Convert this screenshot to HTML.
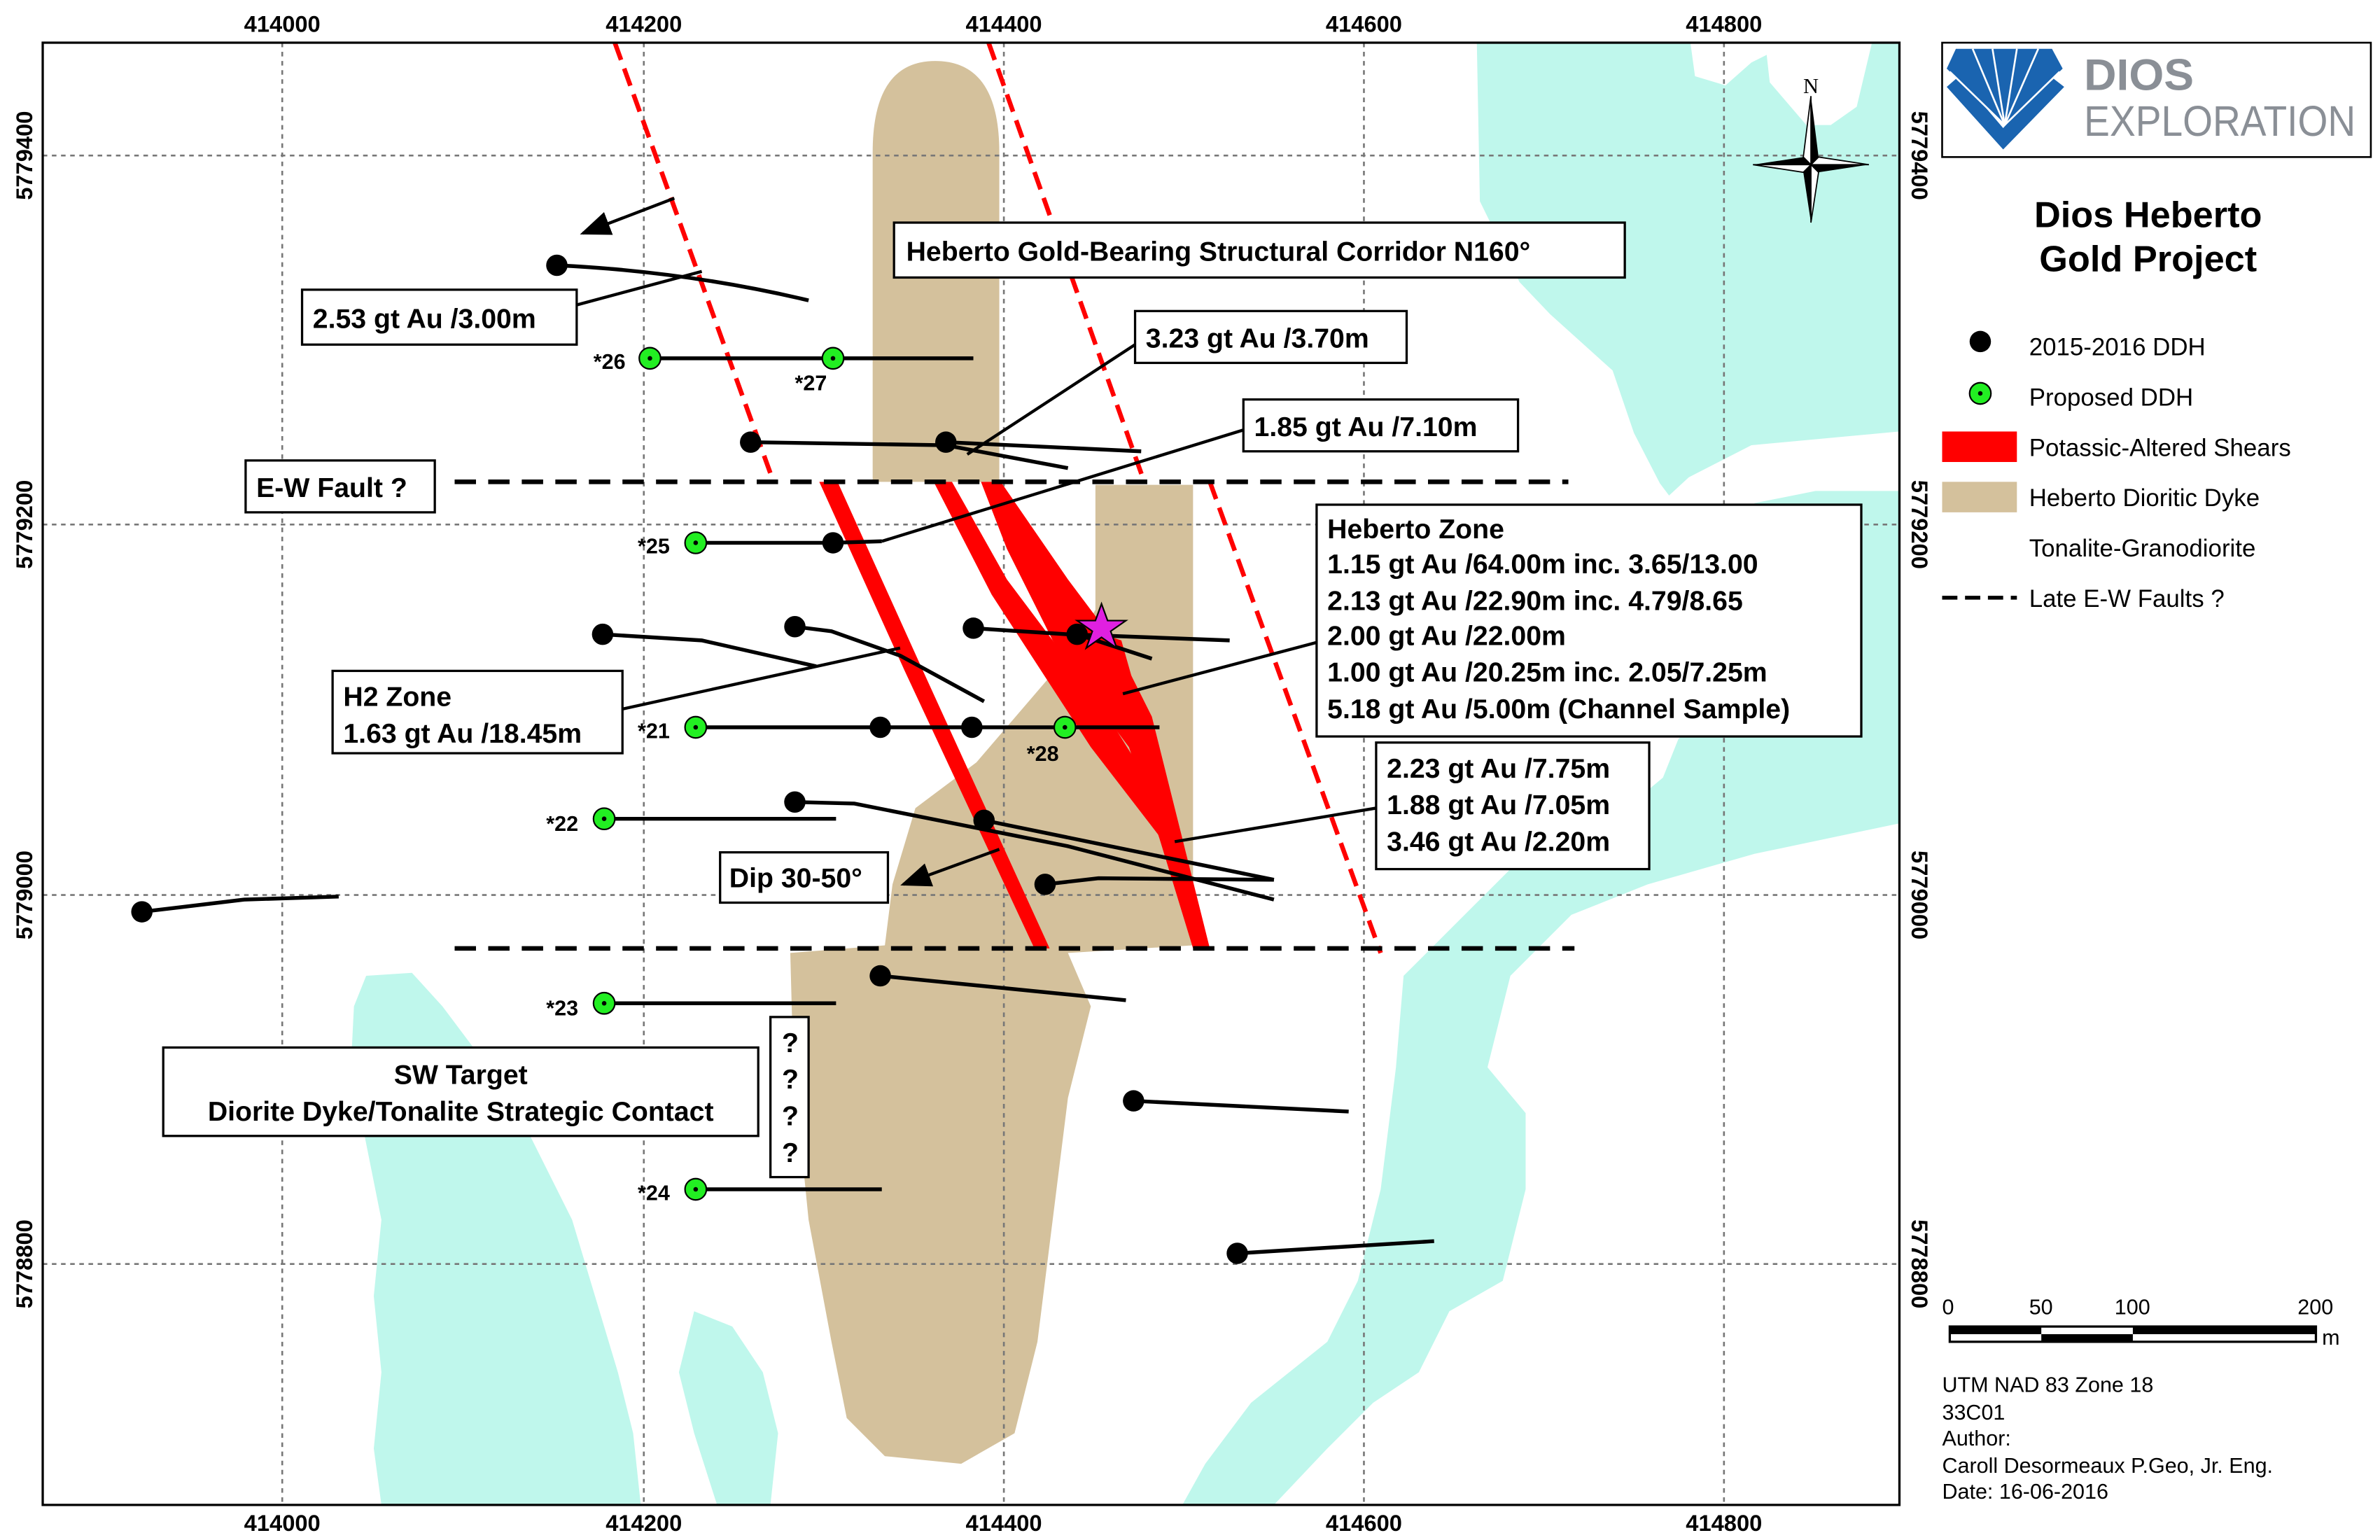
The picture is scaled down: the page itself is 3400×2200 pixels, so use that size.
<!DOCTYPE html>
<html><head><meta charset="utf-8"><style>html,body{margin:0;padding:0;background:#fff}svg{display:block}</style></head><body>
<svg width="3400" height="2200" viewBox="0 0 1560 1010" preserveAspectRatio="none" xmlns="http://www.w3.org/2000/svg" font-family="Liberation Sans, Arial, sans-serif">
<defs><marker id="ah" markerWidth="10" markerHeight="8" refX="9" refY="4" orient="auto"><path d="M0,0 L10,4 L0,8 Z" fill="#000"/></marker></defs>
<rect width="1560" height="1010" fill="#fff"/>
<!-- cyan -->
<g fill="#bff7ec">
<path d="M968,28 L1108,28 L1111,50 L1131,56 L1148,41 L1158,36 L1160,54 L1184,82 L1200,82 L1217,70 L1227,28 L1245,28 L1245,283 L1148,292 L1107,313 L1094,325 L1088,317 L1071,284 L1057,243 L1016,206 L996,185 L970,132 Z"/>
<path d="M1150,330 L1190,322 L1245,322 L1245,540 L1150,560 L1080,580 L1030,600 L990,640 L975,700 L1000,730 L1000,780 L985,840 L950,860 L930,900 L900,920 L870,950 L835,987 L775,987 L790,960 L820,920 L870,880 L890,840 L905,780 L915,700 L920,640 L960,600 L1000,560 L1060,535 L1090,510 L1100,485 L1140,440 Z"/>
<path d="M240,640 L270,638 L290,660 L320,700 L340,730 L360,770 L375,800 L390,850 L405,900 L415,940 L420,987 L250,987 L245,950 L250,900 L245,850 L250,800 L240,750 L230,700 L232,660 Z"/>
<path d="M455,860 L480,870 L500,900 L510,940 L505,987 L470,987 L455,940 L445,900 Z"/>
</g>
<!-- dyke -->
<g fill="#d4c19c">
<path d="M572,316 L572,100 Q572,40 613,40 Q655,40 655,100 L655,316 Z"/>
<path d="M718,318 L782,318 L782,620 L700,625 L715,660 L700,720 L690,800 L680,880 L665,940 L630,960 L580,955 L555,930 L545,880 L530,800 L520,700 L518,625 L580,620 L585,580 L600,530 L640,500 L700,430 L718,400 Z"/>
</g>
<!-- grid -->
<g stroke="#777" stroke-width="1.2" stroke-dasharray="3,3">
<line x1="185" y1="28" x2="185" y2="987"/><line x1="422" y1="28" x2="422" y2="987"/><line x1="658" y1="28" x2="658" y2="987"/><line x1="894" y1="28" x2="894" y2="987"/><line x1="1130" y1="28" x2="1130" y2="987"/>
<line x1="28" y1="102" x2="1245" y2="102"/><line x1="28" y1="344" x2="1245" y2="344"/><line x1="28" y1="587" x2="1245" y2="587"/><line x1="28" y1="829" x2="1245" y2="829"/>
</g>
<!-- shears -->
<g fill="#ff0000">
<path d="M537,316 L549,316 L605,440 L688,622 L678,622 L593,440 Z"/>
<path d="M612,316 L624,316 L660,380 L720,460 L770,540 L765,555 L715,490 L650,390 Z"/>
<path d="M643,316 L656,316 L700,380 L730,420 L755,470 L770,530 L793,622 L782,622 L760,550 L740,490 L710,450 L690,420 L660,360 Z"/>
<path d="M705,410 L735,420 L752,480 L740,482 L720,440 Z"/>
</g>
<g stroke="#ff0000" stroke-width="3" stroke-dasharray="12,6">
<line x1="403" y1="28" x2="507" y2="316"/><line x1="648" y1="28" x2="750" y2="316"/><line x1="793" y1="316" x2="905" y2="625"/>
</g>
<g stroke="#000" stroke-width="3" stroke-dasharray="14,8">
<line x1="298" y1="316" x2="1028" y2="316"/><line x1="298" y1="622" x2="1032" y2="622"/>
</g>
<!-- traces -->
<g stroke="#000" stroke-width="2.5" fill="none">
<path d="M365,174 Q450,178 530,197"/><path d="M492,290 L620,292 L700,307"/><path d="M620,290 L748,296"/><path d="M546,356 L578,355"/>
<path d="M395,416 L460,420 L535,437"/><path d="M521,411 L545,414 L590,430 L645,460"/><path d="M638,412 L700,416 L806,420"/><path d="M706,416 L755,432"/>
<path d="M456,477 L760,477"/><path d="M521,526 L560,527 L700,555 L835,590"/><path d="M645,538 L835,577"/><path d="M685,580 L720,576 L835,577"/>
<path d="M93,598 L160,590 L222,588"/><path d="M577,640 L738,656"/><path d="M743,722 L884,729"/><path d="M811,822 L940,814"/>
<path d="M426,235 L638,235"/><path d="M456,356 L546,356"/><path d="M396,537 L548,537"/><path d="M396,658 L548,658"/><path d="M456,780 L578,780"/>
<path d="M378,200 L460,178" stroke-width="2"/><path d="M744,226 L634,298" stroke-width="2"/><path d="M815,282 L578,355" stroke-width="2"/>
<path d="M868,420 L736,455" stroke-width="2"/><path d="M408,465 L590,425" stroke-width="2"/><path d="M902,530 L770,552" stroke-width="2"/>
<path d="M442,130 L382,153" stroke-width="2" marker-end="url(#ah)"/><path d="M655,557 L592,580" stroke-width="2" marker-end="url(#ah)"/>
</g>
<g fill="#000">
<circle cx="365" cy="174" r="7"/><circle cx="492" cy="290" r="7"/><circle cx="620" cy="290" r="7"/><circle cx="546" cy="356" r="7"/>
<circle cx="395" cy="416" r="7"/><circle cx="521" cy="411" r="7"/><circle cx="638" cy="412" r="7"/><circle cx="706" cy="416" r="7"/>
<circle cx="577" cy="477" r="7"/><circle cx="637" cy="477" r="7"/><circle cx="521" cy="526" r="7"/><circle cx="645" cy="538" r="7"/>
<circle cx="685" cy="580" r="7"/><circle cx="93" cy="598" r="7"/><circle cx="577" cy="640" r="7"/><circle cx="743" cy="722" r="7"/><circle cx="811" cy="822" r="7"/>
</g>
<polygon points="722,396 726,407 738,407 728,414 732,425 722,418 712,425 716,414 706,407 718,407" fill="#e020e0" stroke="#000" stroke-width="1"/>
<g fill="#22ee22" stroke="#000" stroke-width="1">
<circle cx="426" cy="235" r="7"/><circle cx="546" cy="235" r="7"/><circle cx="456" cy="356" r="7"/><circle cx="456" cy="477" r="7"/>
<circle cx="698" cy="477" r="7"/><circle cx="396" cy="537" r="7"/><circle cx="396" cy="658" r="7"/><circle cx="456" cy="780" r="7"/>
</g>
<g fill="#000"><circle cx="426" cy="235" r="1.5"/><circle cx="546" cy="235" r="1.5"/><circle cx="456" cy="356" r="1.5"/><circle cx="456" cy="477" r="1.5"/><circle cx="698" cy="477" r="1.5"/><circle cx="396" cy="537" r="1.5"/><circle cx="396" cy="658" r="1.5"/><circle cx="456" cy="780" r="1.5"/></g>
<g font-size="14" font-weight="bold">
<text x="389" y="242">*26</text><text x="521" y="256">*27</text><text x="418" y="363">*25</text><text x="418" y="484">*21</text>
<text x="673" y="499">*28</text><text x="358" y="545">*22</text><text x="358" y="666">*23</text><text x="418" y="787">*24</text>
</g>
<!-- boxes -->
<g fill="#fff" stroke="#000" stroke-width="1.5">
<rect x="198" y="190" width="180" height="36"/><rect x="586" y="146" width="479" height="36"/><rect x="744" y="204" width="178" height="34"/>
<rect x="815" y="262" width="180" height="34"/><rect x="161" y="302" width="124" height="34"/><rect x="863" y="331" width="357" height="152"/>
<rect x="218" y="440" width="190" height="54"/><rect x="902" y="487" width="179" height="83"/><rect x="472" y="559" width="110" height="33"/>
<rect x="107" y="687" width="390" height="58"/><rect x="505" y="667" width="25" height="105"/>
</g>
<g font-size="18" font-weight="bold" fill="#000">
<text x="205" y="215">2.53 gt Au /3.00m</text>
<text x="594" y="171">Heberto Gold-Bearing Structural Corridor N160°</text>
<text x="751" y="228">3.23 gt Au /3.70m</text>
<text x="822" y="286">1.85 gt Au /7.10m</text>
<text x="168" y="326">E-W Fault ?</text>
<text x="870" y="353">Heberto Zone</text><text x="870" y="376">1.15 gt Au /64.00m inc. 3.65/13.00</text><text x="870" y="400">2.13 gt Au /22.90m inc. 4.79/8.65</text><text x="870" y="423">2.00 gt Au /22.00m</text><text x="870" y="447">1.00 gt Au /20.25m inc. 2.05/7.25m</text><text x="870" y="471">5.18 gt Au /5.00m (Channel Sample)</text>
<text x="225" y="463">H2 Zone</text><text x="225" y="487">1.63 gt Au /18.45m</text>
<text x="909" y="510">2.23 gt Au /7.75m</text><text x="909" y="534">1.88 gt Au /7.05m</text><text x="909" y="558">3.46 gt Au /2.20m</text>
<text x="478" y="582">Dip 30-50°</text>
<text x="302" y="711" text-anchor="middle">SW Target</text><text x="302" y="735" text-anchor="middle">Diorite Dyke/Tonalite Strategic Contact</text>
<text x="518" y="690" text-anchor="middle">?</text><text x="518" y="714" text-anchor="middle">?</text><text x="518" y="738" text-anchor="middle">?</text><text x="518" y="762" text-anchor="middle">?</text>
</g>
<rect x="28" y="28" width="1217" height="959" fill="none" stroke="#000" stroke-width="1.5"/>
<g font-size="15" font-weight="bold" text-anchor="middle">
<text x="185" y="21">414000</text><text x="422" y="21">414200</text><text x="658" y="21">414400</text><text x="894" y="21">414600</text><text x="1130" y="21">414800</text>
<text x="185" y="1004">414000</text><text x="422" y="1004">414200</text><text x="658" y="1004">414400</text><text x="894" y="1004">414600</text><text x="1130" y="1004">414800</text>
<text transform="translate(21,102) rotate(-90)">5779400</text><text transform="translate(21,344) rotate(-90)">5779200</text><text transform="translate(21,587) rotate(-90)">5779000</text><text transform="translate(21,829) rotate(-90)">5778800</text>
<text transform="translate(1253,102) rotate(90)">5779400</text><text transform="translate(1253,344) rotate(90)">5779200</text><text transform="translate(1253,587) rotate(90)">5779000</text><text transform="translate(1253,829) rotate(90)">5778800</text>
</g>
<!-- compass -->
<g transform="translate(1187,108)">
<polygon points="0,-45 5,-5 0,0" fill="#000"/><polygon points="0,-45 -5,-5 0,0" fill="#fff" stroke="#000" stroke-width="0.8"/>
<polygon points="0,38 5,5 0,0" fill="#fff" stroke="#000" stroke-width="0.8"/><polygon points="0,38 -5,5 0,0" fill="#000"/>
<polygon points="38,0 5,-5 0,0" fill="#fff" stroke="#000" stroke-width="0.8"/><polygon points="38,0 5,5 0,0" fill="#000"/>
<polygon points="-38,0 -5,5 0,0" fill="#fff" stroke="#000" stroke-width="0.8"/><polygon points="-38,0 -5,-5 0,0" fill="#000"/>
<text x="0" y="-47" font-size="14" text-anchor="middle" font-family="Liberation Serif, serif">N</text>
</g>
<!-- right panel -->
<rect x="1273" y="28" width="281" height="75" fill="#fff" stroke="#000" stroke-width="1.2"/>
<g fill="#1a64b0">
<polygon points="1282,32 1345,32 1352,45 1314,82 1276,45"/>
<polygon points="1276,57 1284,50 1313,84 1344,50 1353,57 1313,98"/>
</g>
<g stroke="#fff" stroke-width="1.2">
<line x1="1314" y1="82" x2="1293" y2="32"/><line x1="1314" y1="82" x2="1306" y2="32"/><line x1="1314" y1="82" x2="1322" y2="32"/><line x1="1314" y1="82" x2="1336" y2="32"/>
<line x1="1314" y1="82" x2="1278" y2="47"/><line x1="1314" y1="82" x2="1350" y2="47"/>
</g>
<text x="1366" y="59" font-size="29" font-weight="bold" fill="#8a8f96" textLength="72" lengthAdjust="spacingAndGlyphs">DIOS</text>
<text x="1366" y="89" font-size="28" fill="#8a8f96" textLength="178" lengthAdjust="spacingAndGlyphs">EXPLORATION</text>
<text x="1408" y="149" font-size="24" font-weight="bold" text-anchor="middle">Dios Heberto</text>
<text x="1408" y="178" font-size="24" font-weight="bold" text-anchor="middle">Gold Project</text>
<circle cx="1298" cy="224" r="7" fill="#000"/>
<circle cx="1298" cy="258" r="7" fill="#22ee22" stroke="#000"/><circle cx="1298" cy="258" r="1.5"/>
<rect x="1273" y="283" width="49" height="20" fill="#ff0000"/>
<rect x="1273" y="316" width="49" height="20" fill="#d4c19c"/>
<line x1="1273" y1="392" x2="1322" y2="392" stroke="#000" stroke-width="2.5" stroke-dasharray="10,5"/>
<g font-size="16">
<text x="1330" y="233">2015-2016 DDH</text><text x="1330" y="266">Proposed DDH</text><text x="1330" y="299">Potassic-Altered Shears</text>
<text x="1330" y="332">Heberto Dioritic Dyke</text><text x="1330" y="365">Tonalite-Granodiorite</text><text x="1330" y="398">Late E-W Faults ?</text>
</g>
<g font-size="14"><text x="1273" y="862">0</text><text x="1330" y="862">50</text><text x="1386" y="862">100</text><text x="1506" y="862">200</text><text x="1522" y="882">m</text></g>
<rect x="1278" y="870" width="240" height="10" fill="#fff" stroke="#000" stroke-width="1.5"/>
<rect x="1278" y="870" width="60" height="5" fill="#000"/><rect x="1338" y="875" width="60" height="5" fill="#000"/><rect x="1398" y="870" width="120" height="5" fill="#000"/>
<g font-size="14"><text x="1273" y="913">UTM NAD 83 Zone 18</text><text x="1273" y="931">33C01</text><text x="1273" y="948">Author:</text><text x="1273" y="966">Caroll Desormeaux P.Geo, Jr. Eng.</text><text x="1273" y="983">Date: 16-06-2016</text></g>
</svg>
</body></html>
